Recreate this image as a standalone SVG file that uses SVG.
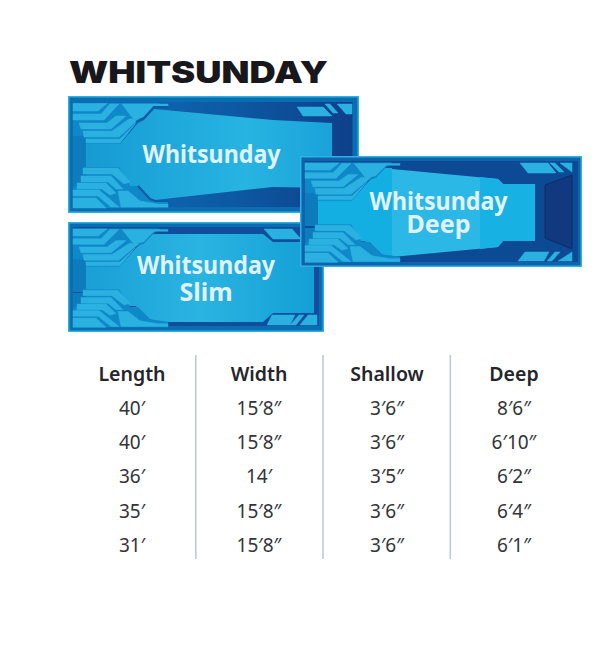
<svg xmlns="http://www.w3.org/2000/svg" width="612" height="651" viewBox="0 0 612 651">
<defs>
<style>
.edge{fill:#2cb3e1}.ring{fill:#0b6db1}.lt{fill:#2bb1e1;stroke:#2bb1e1;stroke-width:.5}.strip{fill:#0c7cbd}.base{fill:#0f88c8}
.pl{font-family:"Noto Sans","Open Sans",sans-serif;font-weight:700;font-size:25px;fill:#e0f2fc;text-anchor:middle}
.th{font-family:"Noto Sans","Open Sans",sans-serif;font-weight:600;font-size:19.500px;fill:#25252b;text-anchor:middle}
.td{font-family:"Noto Sans","Open Sans",sans-serif;font-weight:400;font-size:19px;fill:#33333a;text-anchor:middle}
.sep{stroke:#bdc9dc;stroke-width:1.6;fill:none}
.dk{fill:none;stroke:#0c5da6;stroke-width:2.2}
</style>
<linearGradient id="navy" x1="0" x2="1" y1="0" y2="0"><stop offset="0" stop-color="#0e6fb6"/><stop offset=".55" stop-color="#0d5aa4"/><stop offset="1" stop-color="#0e3f8b"/></linearGradient>
<linearGradient id="water1" x1="0" x2="1" y1="0" y2="0"><stop offset="0" stop-color="#169bd3"/><stop offset=".65" stop-color="#27b4e2"/><stop offset="1" stop-color="#1aa2d9"/></linearGradient>
<linearGradient id="water3" x1="0" x2="1" y1="0" y2="0"><stop offset="0" stop-color="#1a9fd6"/><stop offset=".5" stop-color="#2ab4e2"/><stop offset="1" stop-color="#149fd6"/></linearGradient>
<g id="topMotif">
<polygon class="base" points="5,7 92,7 86,12 76,23 68,27 52,48 18,48 18,75 5,75"/>
<polygon class="strip" points="5,40 18,40 18,75 5,75"/>
<polygon class="lt" points="5,7.500 39,7.500 30,15 5,15"/>
<polygon class="lt" points="5,18 33,18 42,8 51,8 36,24 5,24"/>
<polygon class="lt" points="11,27 39,27 48,20 58,20 43,33 13,33"/>
<polygon class="lt" points="15,35 44,35 61,23 71,23 51,41 16,41"/>
<polygon class="lt" points="18,43 52,43 67,28 52,47 18,47"/>
<polygon class="lt" points="54,8 100,8 100,10 86,10 76,21 66,24"/>
</g>
<g id="botMotif">
<polygon class="base" points="5,-5 100,-5 100,-11 87,-13 82,-14 70,-27 62,-27 51,-46 15,-46 18,-42 5,-42"/>
<polygon class="strip" points="5,-42 18,-42 18,-30 5,-26"/>
<polygon class="lt" points="15,-45 50,-45 62,-31 56,-29 44,-39 15,-39"/>
<polygon class="lt" points="13,-37 43,-37 55,-24 48,-24 40,-31 13,-31"/>
<polygon class="lt" points="9,-30 38,-30 48,-20 42,-18 34,-24 9,-24"/>
<polygon class="lt" points="5,-23 31,-23 51,-6 43,-6 30,-17 5,-17"/>
<polygon class="lt" points="5,-15 28,-15 38,-5 5,-5"/>
<polygon class="lt" points="50,-22 60,-22 72,-12 90,-9 100,-9 100,-6 53,-6"/>
</g>
</defs>
<rect width="612" height="651" fill="#ffffff"/>
<text x="69" y="83" font-family="Inter,'Open Sans',sans-serif" font-weight="900" font-size="30" fill="#17171c" textLength="259" lengthAdjust="spacingAndGlyphs">WHITSUNDAY</text>

<g id="pool-whitsunday" transform="translate(68,96)">
<rect class="edge" width="291" height="117"/>
<rect class="ring" x="1.500" y="1.500" width="288" height="114"/>
<rect x="4.500" y="6" width="280" height="105" fill="url(#navy)"/>
<polygon fill="url(#water1)" points="18,48 52,48 70,27 76,24 86,13 205,24 264,27 264,92 205,91 87,104 82,103 70,90 62,90 51,72 18,72"/>
<use href="#topMotif"/>
<use href="#botMotif" transform="translate(0,117)"/>
<polyline class="dk" points="100,11 86,11 76,22 68,26"/>
<polyline class="dk" points="100,105 87,105 82,103 70,90"/>
<polygon class="lt" points="229,11 255,11 264,20 235,20"/>
<polygon class="lt" points="257,8 262,8 270,17 265,17"/>
<polygon class="lt" points="269,8 284,8 284,18 278,18"/>
</g>

<g id="pool-whitsunday-slim" transform="translate(68,222)">
<rect class="edge" width="256" height="110"/>
<rect class="ring" x="1.500" y="1.500" width="253" height="107"/>
<rect x="5" y="5" width="246" height="99" fill="#0e4e9c"/>
<polygon fill="url(#water3)" points="18,44 52,44 68,26 74,20 80,12 195,12 205,20 246,20 246,91 205,91 195,100 80,100 74,96 68,84 54,84 51,68 18,68"/>
<use href="#topMotif" transform="scale(1,.93)"/>
<use href="#botMotif" transform="translate(0,110) scale(1,.93)"/>
<polygon class="lt" points="196,7 224,7 233,17 205,17"/>
<polygon class="lt" points="204,93 227,93 222,103 199,103"/>
<polygon class="lt" points="231,93 236,93 228,103 222,103"/>
<polygon class="lt" points="240,93 249,93 249,103 232,103"/>
</g>

<g id="pool-whitsunday-deep" transform="translate(300,156)">
<rect class="edge" width="282" height="111"/>
<rect x="1.500" y="1.500" width="279" height="108" fill="#0e63ac"/>
<rect x="5" y="5" width="273" height="101" fill="#0d4a95"/>
<polygon fill="#13aee2" points="18,44 52,44 68,26 74,20 83,12 92,12 92,101 83,101 74,96 68,86 54,84 51,69 18,69"/>
<polygon fill="#2bb8e6" points="92,13 198,23 203,28 203,85 198,91 92,101"/>
<polygon fill="#18b1e4" points="180,21 198,23 203,28 235,28 235,85 203,85 198,91 180,93"/>
<polygon fill="#10397f" stroke="#0b2c6a" stroke-width="1" points="245,29 272,19 272,93 245,82"/>
<use href="#topMotif" transform="scale(1,.93)"/>
<use href="#botMotif" transform="translate(0,111) scale(1,.93)"/>
<polygon class="lt" points="220,7 248,7 256,17 228,17"/>
<polygon class="lt" points="250,7 255,7 264,16 259,16"/>
<polygon class="lt" points="260,7 272,7 272,16"/>
<polygon class="lt" points="225,96 249,96 244,105 218,105"/>
<polygon class="lt" points="255,96 260,96 252,105 247,105"/>
<polygon class="lt" points="272,96 272,105 258,105"/>
</g>

<g id="pool-labels">
<text class="pl" x="211.500" y="163" textLength="138" lengthAdjust="spacingAndGlyphs">Whitsunday</text>
<text class="pl" x="206" y="274" textLength="138" lengthAdjust="spacingAndGlyphs">Whitsunday</text>
<text class="pl" x="206" y="301">Slim</text>
<text class="pl" x="438.500" y="210" textLength="138" lengthAdjust="spacingAndGlyphs">Whitsunday</text>
<text class="pl" x="438.500" y="233">Deep</text>
</g>

<g id="table">
<line class="sep" x1="195.800" y1="355" x2="195.800" y2="559"/>
<line class="sep" x1="323" y1="355" x2="323" y2="559"/>
<line class="sep" x1="450.300" y1="355" x2="450.300" y2="559"/>
<text class="th" x="132" y="381">Length</text>
<text class="th" x="259" y="381">Width</text>
<text class="th" x="387" y="381">Shallow</text>
<text class="th" x="514" y="381">Deep</text>
<text class="td" x="132" y="415">40′</text><text class="td" x="259" y="415">15′8″</text><text class="td" x="387" y="415">3′6″</text><text class="td" x="514" y="415">8′6″</text>
<text class="td" x="132" y="449">40′</text><text class="td" x="259" y="449">15′8″</text><text class="td" x="387" y="449">3′6″</text><text class="td" x="514" y="449">6′10″</text>
<text class="td" x="132" y="483">36′</text><text class="td" x="259" y="483">14′</text><text class="td" x="387" y="483">3′5″</text><text class="td" x="514" y="483">6′2″</text>
<text class="td" x="132" y="518">35′</text><text class="td" x="259" y="518">15′8″</text><text class="td" x="387" y="518">3′6″</text><text class="td" x="514" y="518">6′4″</text>
<text class="td" x="132" y="552">31′</text><text class="td" x="259" y="552">15′8″</text><text class="td" x="387" y="552">3′6″</text><text class="td" x="514" y="552">6′1″</text>
</g>
</svg>
